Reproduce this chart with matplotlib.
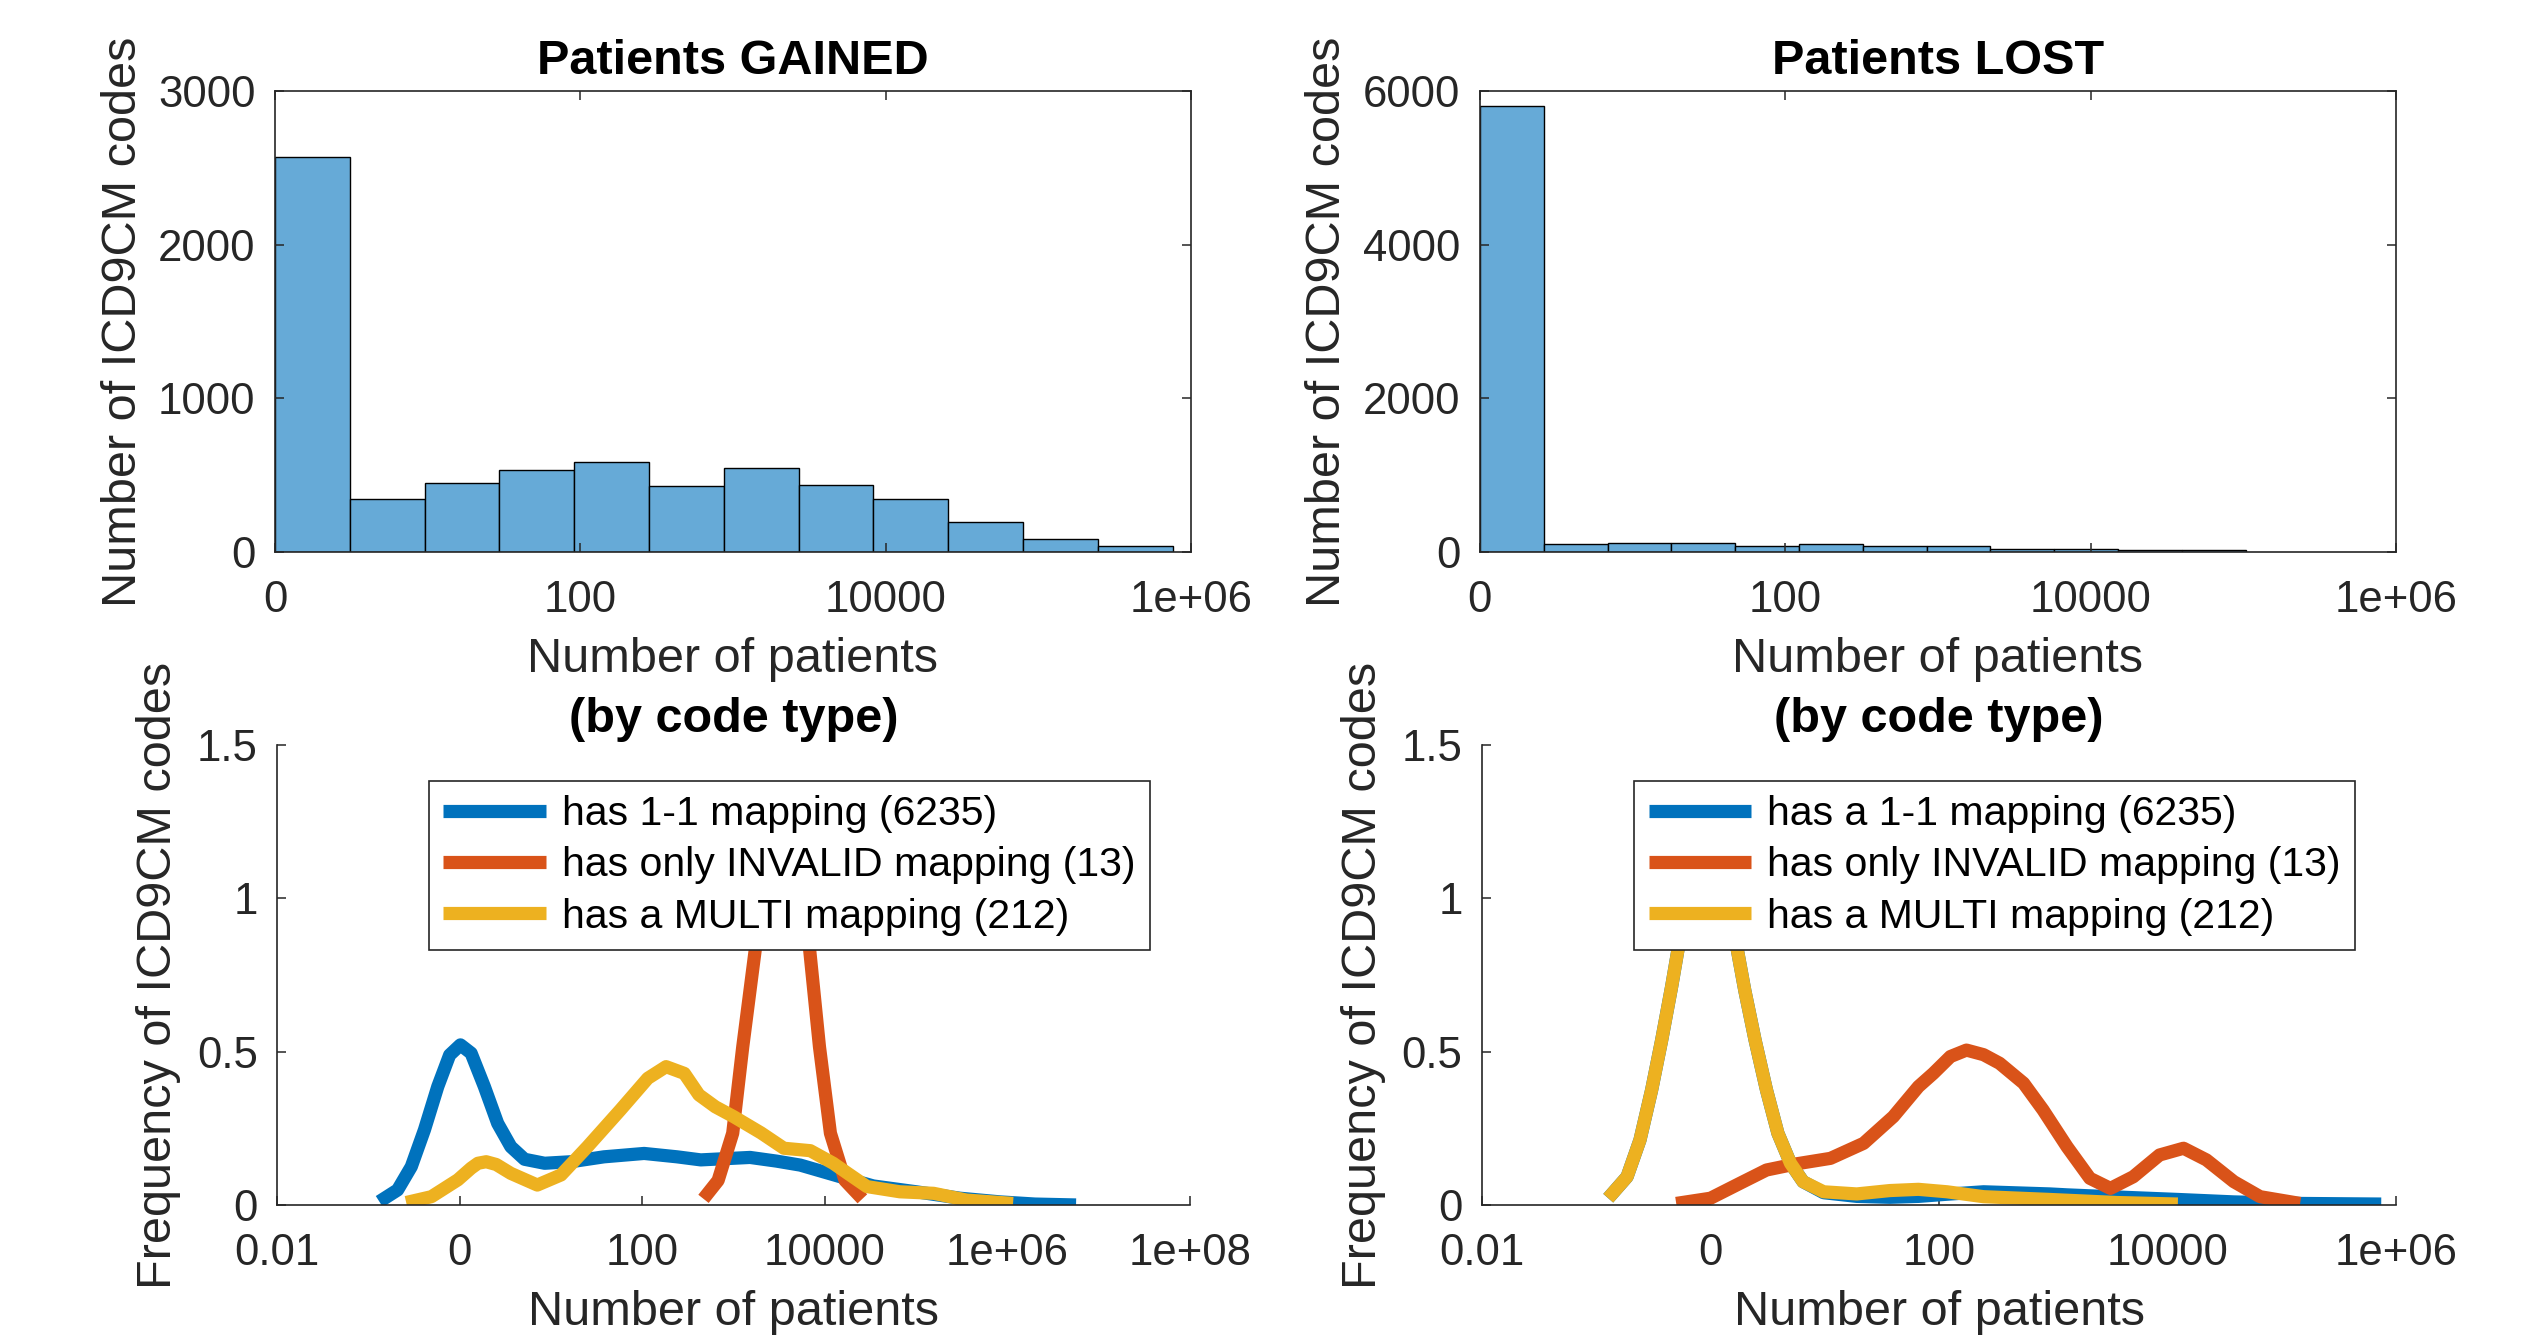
import matplotlib
matplotlib.use('Agg')
import matplotlib.pyplot as plt
import numpy as np

plt.rcParams['font.family'] = ['Liberation Sans', 'DejaVu Sans']

AX_GRAY = '#262626'
HIST_FACE = '#66AAD7'
C_ONE = '#0072BD'
C_INV = '#D95319'
C_MULTI = '#EDB120'

# top row - histograms of log10(number of patients)
gained_counts = [2572, 344, 450, 536, 583, 428, 547, 439, 344, 197, 86, 39]
gained_bin_width = 0.49
lost_counts = [5806, 100, 122, 122, 74, 100, 74, 74, 43, 35, 25, 20]
lost_bin_width = 0.418

hist_xticks = [0, 2, 4, 6]
hist_xticklabels = ['0', '100', '10000', '1e+06']
gained_yticks = [0, 1000, 2000, 3000]
lost_yticks = [0, 2000, 4000, 6000]

# bottom row - density by code type (x in log10 units)
gl_one_x = [-0.88, -0.68, -0.53, -0.386, -0.24, -0.11, 0.008, 0.125, 0.27, 0.416, 0.56, 0.71,
            0.93, 1.22, 1.58, 2.02, 2.38, 2.64, 3.18, 3.47, 3.73, 4.17, 4.53, 5.0, 5.48, 5.92,
            6.3, 6.75]
gl_one_y = [0.011, 0.049, 0.125, 0.245, 0.386, 0.489, 0.522, 0.495, 0.386, 0.266, 0.19, 0.149,
            0.136, 0.141, 0.157, 0.168, 0.157, 0.147, 0.155, 0.143, 0.13, 0.092, 0.062, 0.043,
            0.022, 0.01, 0.003, 0.0]
gl_inv_x = [2.67, 2.83, 2.99, 3.10, 3.24, 3.35, 3.45, 3.54, 3.63, 3.72, 3.83, 3.94, 4.06, 4.22, 4.41]
gl_inv_y = [0.02, 0.08, 0.234, 0.516, 0.84, 1.08, 1.25, 1.3, 1.25, 1.08, 0.84, 0.516, 0.234, 0.08, 0.02]
gl_multi_x = [-0.586, -0.31, -0.02, 0.125, 0.2, 0.29, 0.4, 0.56, 0.85, 1.11, 1.40, 1.76, 2.06,
              2.26, 2.46, 2.62, 2.80, 3.0, 3.3, 3.55, 3.84, 4.09, 4.25, 4.46, 4.82, 5.19, 5.55, 6.06]
gl_multi_y = [0.008, 0.027, 0.082, 0.12, 0.136, 0.141, 0.132, 0.103, 0.065, 0.098, 0.19, 0.31,
              0.413, 0.451, 0.429, 0.359, 0.32, 0.288, 0.235, 0.185, 0.177, 0.136, 0.103, 0.06,
              0.043, 0.038, 0.016, 0.005]

ls_one_x = [-0.895, -0.73, -0.617, -0.515, -0.427, -0.34, -0.28, -0.15, -0.03, 0.10, 0.23, 0.30,
            0.39, 0.49, 0.59, 0.70, 0.81, 0.99, 1.28, 1.57, 1.82, 2.07, 2.39, 2.97, 3.12, 3.56,
            4.09, 4.58, 5.16, 5.87]
ls_one_y = [0.022, 0.092, 0.212, 0.375, 0.538, 0.712, 0.842, 1.06, 1.17, 1.08, 0.842, 0.70,
            0.538, 0.375, 0.234, 0.136, 0.076, 0.04, 0.028, 0.025, 0.028, 0.035, 0.043, 0.036,
            0.033, 0.026, 0.018, 0.01, 0.005, 0.003]
ls_inv_x = [-0.30, 0.0, 0.26, 0.49, 0.75, 1.05, 1.34, 1.60, 1.82, 1.95, 2.10, 2.24, 2.39, 2.53,
            2.74, 2.91, 3.12, 3.32, 3.50, 3.70, 3.93, 4.14, 4.34, 4.58, 4.81, 5.16]
ls_inv_y = [0.005, 0.022, 0.071, 0.114, 0.134, 0.152, 0.201, 0.288, 0.386, 0.429, 0.484, 0.505,
            0.49, 0.462, 0.397, 0.31, 0.19, 0.087, 0.054, 0.092, 0.163, 0.185, 0.147, 0.076,
            0.027, 0.005]
ls_multi_x = [-0.895, -0.73, -0.617, -0.515, -0.427, -0.34, -0.28, -0.15, -0.03, 0.10, 0.23, 0.30,
              0.39, 0.49, 0.59, 0.70, 0.81, 0.99, 1.28, 1.57, 1.82, 2.07, 2.39, 2.97, 3.56, 4.09]
ls_multi_y = [0.022, 0.092, 0.212, 0.375, 0.538, 0.712, 0.842, 1.06, 1.17, 1.08, 0.842, 0.70,
              0.538, 0.375, 0.234, 0.136, 0.076, 0.043, 0.036, 0.047, 0.051, 0.043, 0.027, 0.018,
              0.008, 0.003]

gl_labels = ['has 1-1 mapping (6235)', 'has only INVALID mapping (13)', 'has a MULTI mapping (212)']
ls_labels = ['has a 1-1 mapping (6235)', 'has only INVALID mapping (13)', 'has a MULTI mapping (212)']

dens_left_ticks = [-2, 0, 2, 4, 6, 8]
dens_left_labels = ['0.01', '0', '100', '10000', '1e+06', '1e+08']
dens_right_ticks = [-2, 0, 2, 4, 6]
dens_right_labels = ['0.01', '0', '100', '10000', '1e+06']
dens_yticks = [0, 0.5, 1, 1.5]
dens_yticklabels = ['0', '0.5', '1', '1.5']

TICK_FS = 31.5
LABEL_FS = 35
LEG_FS = 29.5

fig = plt.figure(figsize=(25.35, 13.35), dpi=100)
ax_g = fig.add_axes([0.1085, 0.5865, 0.3613, 0.3453])
ax_l = fig.add_axes([0.5838, 0.5865, 0.3613, 0.3453])
ax_dg = fig.add_axes([0.1093, 0.0974, 0.3602, 0.3446])
ax_dl = fig.add_axes([0.5846, 0.0974, 0.3606, 0.3446])


def style_axes(ax, box=True):
    for side, sp in ax.spines.items():
        sp.set_color(AX_GRAY)
        sp.set_linewidth(1.2)
        if not box and side in ('top', 'right'):
            sp.set_visible(False)
    ax.tick_params(direction='in', length=6.5, width=1.1, colors=AX_GRAY,
                   labelsize=TICK_FS, top=box, right=box)
    ax.tick_params(axis='x', pad=20)
    ax.tick_params(axis='y', pad=14)


def draw_hist(ax, counts, width, yticks, title):
    edges = np.arange(len(counts)) * width
    ax.bar(edges, counts, width=width, align='edge', color=HIST_FACE,
           edgecolor='black', linewidth=1.0)
    ax.set_xlim(0, 6)
    ax.set_ylim(yticks[0], yticks[-1])
    ax.set_xticks(hist_xticks)
    ax.set_xticklabels(hist_xticklabels)
    ax.set_yticks(yticks)
    ax.set_yticklabels([str(v) for v in yticks])
    style_axes(ax, box=True)
    ax.set_title(title, fontsize=LABEL_FS, fontweight='bold', pad=12)
    ax.set_xlabel('Number of patients', fontsize=LABEL_FS, color=AX_GRAY, labelpad=12)
    ax.set_ylabel('Number of ICD9CM codes', fontsize=LABEL_FS, color=AX_GRAY, labelpad=9)


def draw_density(ax, curves, labels, xticks, xticklabels):
    handles = []
    for (xs, ys), col in zip(curves, [C_ONE, C_INV, C_MULTI]):
        h, = ax.plot(xs, ys, color=col, linewidth=9.5, solid_capstyle='butt',
                     solid_joinstyle='round')
        handles.append(h)
    ax.set_xlim(xticks[0], xticks[-1])
    ax.set_ylim(0, 1.5)
    ax.set_xticks(xticks)
    ax.set_xticklabels(xticklabels)
    ax.set_yticks(dens_yticks)
    ax.set_yticklabels(dens_yticklabels)
    style_axes(ax, box=False)
    ax.set_title('(by code type)', fontsize=LABEL_FS, fontweight='bold', pad=9)
    ax.set_xlabel('Number of patients', fontsize=LABEL_FS, color=AX_GRAY, labelpad=12)
    ax.set_ylabel('Frequency of ICD9CM codes', fontsize=LABEL_FS, color=AX_GRAY, labelpad=11)
    leg = ax.legend(handles, labels, loc='upper left', bbox_to_anchor=(0.1665, 0.9217),
                    borderaxespad=0, fontsize=LEG_FS, fancybox=False, framealpha=1,
                    edgecolor=AX_GRAY, handlelength=2.5, handletextpad=0.4,
                    borderpad=0.35, labelspacing=0.32)
    leg.get_frame().set_linewidth(1.2)
    leg.set_zorder(10)


draw_hist(ax_g, gained_counts, gained_bin_width, gained_yticks, 'Patients GAINED')
draw_hist(ax_l, lost_counts, lost_bin_width, lost_yticks, 'Patients LOST')

draw_density(ax_dg, [(gl_one_x, gl_one_y), (gl_inv_x, gl_inv_y), (gl_multi_x, gl_multi_y)],
             gl_labels, dens_left_ticks, dens_left_labels)
draw_density(ax_dl, [(ls_one_x, ls_one_y), (ls_inv_x, ls_inv_y), (ls_multi_x, ls_multi_y)],
             ls_labels, dens_right_ticks, dens_right_labels)

fig.savefig('out.png', dpi=100)
